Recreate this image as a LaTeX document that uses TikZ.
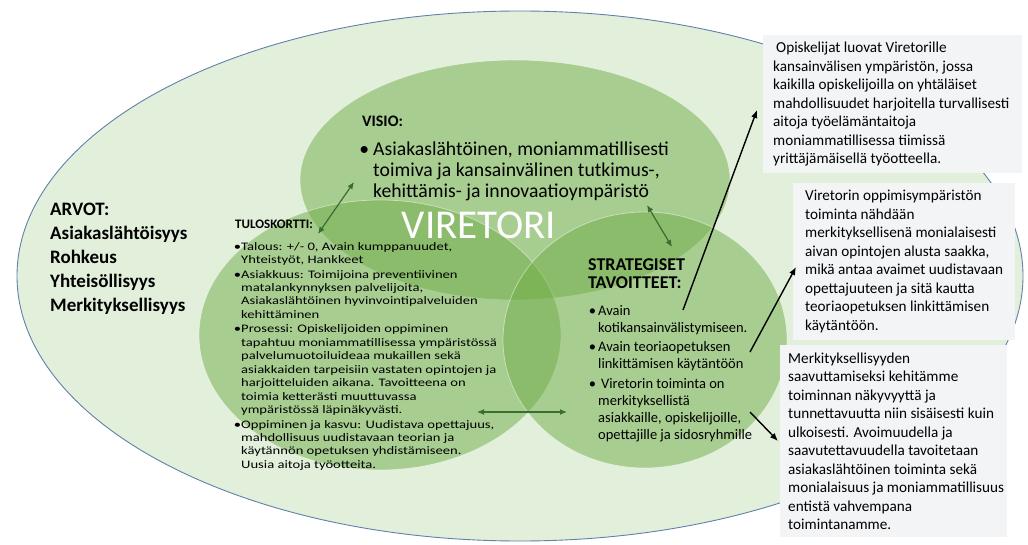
\documentclass[tikz,border=0pt]{standalone}
\usepackage{fontspec}
\setmainfont{Carlito}
\newfontfamily\widefont[FakeStretch=1.27]{Carlito}
\usetikzlibrary{positioning,shapes.geometric,arrows.meta}

\definecolor{leafgreen}{RGB}{112,173,71}
\definecolor{palegreen}{RGB}{226,239,218}
\definecolor{rimblue}{RGB}{96,130,170}
\definecolor{notegray}{RGB}{243,244,246}
\definecolor{darkgreen}{RGB}{56,110,50}

\begin{document}
\begin{tikzpicture}[x=1pt, y=-1pt]
    % Styles
    \tikzstyle{ring} = [ellipse, fill=leafgreen, fill opacity=0.5, draw=white,
        draw opacity=0.45, line width=0.8pt, inner sep=0pt]
    \tikzstyle{note} = [rectangle, fill=notegray, inner sep=0pt, anchor=north west]
    \tikzstyle{notetext} = [anchor=west, align=left, inner sep=0pt,
        font=\fontsize{15.2}{18.5}\selectfont]
    \tikzstyle{textblock} = [anchor=north west, align=left, inner sep=0pt]
    \tikzstyle{arrow} = [line width=1.4pt, -{Latex[length=8pt,width=6.5pt]}]
    \tikzstyle{linkarrow} = [line width=1.2pt, draw=darkgreen,
        {Latex[length=7pt,width=6pt]}-{Latex[length=7pt,width=6pt]}]

    \useasboundingbox[fill=white] (0,0) rectangle (1028,545);

    % === ELLIPSES ===
    \node [ellipse, draw=rimblue, fill=palegreen, line width=0.9pt,
        minimum width=1006, minimum height=530] (outer) at (520,276) {};
    \node [ring, minimum width=430, minimum height=240] (visio) at (515,180) {};
    \node [ring, minimum width=362, minimum height=270] (tulos) at (380,335) {};
    \node [ring, minimum width=284, minimum height=256] (strat) at (645,340) {};

    \node [text=white, inner sep=0pt, font=\fontsize{41}{41}\selectfont] (name) at (479,225) {VIRETORI};

    % === LEFT: Values ===
    \node [textblock, font=\fontsize{19}{24}\selectfont\bfseries] (arvot) at (50,203)
        {ARVOT:\\Asiakaslähtöisyys\\Rohkeus\\Yhteisöllisyys\\Merkityksellisyys};

    % === TOP: Vision ===
    \node [textblock, font=\fontsize{16}{19}\selectfont\bfseries] (visiohead) at (362,116) {VISIO:};
    \node [textblock, font=\fontsize{19.7}{21}\selectfont] (visiotext) at (373,142)
        {\llap{•\hspace{4pt}}Asiakaslähtöinen, moniammatillisesti\\
         toimiva ja kansainvälinen tutkimus-,\\
         kehittämis- ja innovaatioympäristö};

    % === LEFT CIRCLE: Scorecard ===
    \node [textblock, font=\fontsize{13}{14}\selectfont\bfseries] (tuloshead) at (235,220) {TULOSKORTTI:};
    \node [textblock, font=\widefont\fontsize{11.5}{13.45}\selectfont] (tulostext) at (241,242)
        {\llap{•}Talous: +/- 0, Avain kumppanuudet,\\
         Yhteistyöt, Hankkeet\\[1pt]
         \llap{•}Asiakkuus: Toimijoina preventiivinen\\
         matalankynnyksen palvelijoita,\\
         Asiakaslähtöinen hyvinvointipalveluiden\\
         kehittäminen\\[1pt]
         \llap{•}Prosessi: Opiskelijoiden oppiminen\\
         tapahtuu moniammatillisessa ympäristössä\\
         palvelumuotoiluideaa mukaillen sekä\\
         asiakkaiden tarpeisiin vastaten opintojen ja\\
         harjoitteluiden aikana. Tavoitteena on\\
         toimia ketterästi muuttuvassa\\
         ympäristössä läpinäkyvästi.\\[1pt]
         \llap{•}Oppiminen ja kasvu: Uudistava opettajuus,\\
         mahdollisuus uudistavaan teorian ja\\
         käytännön opetuksen yhdistämiseen.\\
         Uusia aitoja työotteita.};

    % === RIGHT CIRCLE: Strategic goals ===
    \node [textblock, font=\fontsize{18}{18}\selectfont\bfseries] (strathead) at (588,258)
        {STRATEGISET\\TAVOITTEET:};
    \node [textblock, font=\fontsize{14.5}{17}\selectfont] (strattext) at (598,305)
        {\llap{•\hspace{2pt}}Avain\\
         kotikansainvälistymiseen.\\[2.5pt]
         \llap{•\hspace{2pt}}Avain teoriaopetuksen\\
         linkittämisen käytäntöön\\[2.5pt]
         \llap{•\hspace{2pt}}\hspace{3pt}Viretorin toiminta on\\
         merkityksellistä\\
         asiakkaille, opiskelijoille,\\
         opettajille ja sidosryhmille};

    % === RIGHT COLUMN: Notes ===
    \node [note, minimum width=259, minimum height=138] (noteA) at (763,35) {};
    \node [notetext] (noteAtext) at ([xshift=10pt]noteA.west)
        {\hspace{3pt}Opiskelijat luovat Viretorille\\
         kansainvälisen ympäristön, jossa\\
         kaikilla opiskelijoilla on yhtäläiset\\
         mahdollisuudet harjoitella turvallisesti\\
         aitoja työelämäntaitoja\\
         moniammatillisessa tiimissä\\
         yrittäjämäisellä työotteella.};

    \node [note, minimum width=222, minimum height=157] (noteB) at (793,183) {};
    \node [notetext] (noteBtext) at ([xshift=12pt]noteB.west)
        {Viretorin oppimisympäristön\\
         toiminta nähdään\\
         merkityksellisenä monialaisesti\\
         aivan opintojen alusta saakka,\\
         mikä antaa avaimet uudistavaan\\
         opettajuuteen ja sitä kautta\\
         teoriaopetuksen linkittämisen\\
         käytäntöön.};

    \node [note, minimum width=227, minimum height=192] (noteC) at (780,345) {};
    \node [notetext] (noteCtext) at ([xshift=8pt]noteC.west)
        {Merkityksellisyyden\\
         saavuttamiseksi kehitämme\\
         toiminnan näkyvyyttä ja\\
         tunnettavuutta niin sisäisesti kuin\\
         ulkoisesti. Avoimuudella ja\\
         saavutettavuudella tavoitetaan\\
         asiakaslähtöinen toiminta sekä\\
         monialaisuus ja moniammatillisuus\\
         entistä vahvempana\\
         toimintanamme.};

    % === ARROWS: Links between circles ===
    \coordinate (visioL) at (354,182);
    \coordinate (tulosT) at (318,234);
    \coordinate (visioR) at (647,205);
    \coordinate (stratT) at (672,247);
    \coordinate (tulosR) at (477,412);
    \coordinate (stratL) at (567,412);
    \draw [linkarrow] (visioL) -- (tulosT);
    \draw [linkarrow] (visioR) -- (stratT);
    \draw [linkarrow] (tulosR) -- (stratL);

    % === ARROWS: Goals to notes ===
    \coordinate (goalA) at (683,310);
    \coordinate (goalB) at (750,352);
    \coordinate (goalC) at (750,412);
    \draw [arrow] (goalA) -- (757,110);
    \draw [arrow] (goalB) -- (796,267);
    \draw [arrow] (goalC) -- (778,441);

\end{tikzpicture}
\end{document}
